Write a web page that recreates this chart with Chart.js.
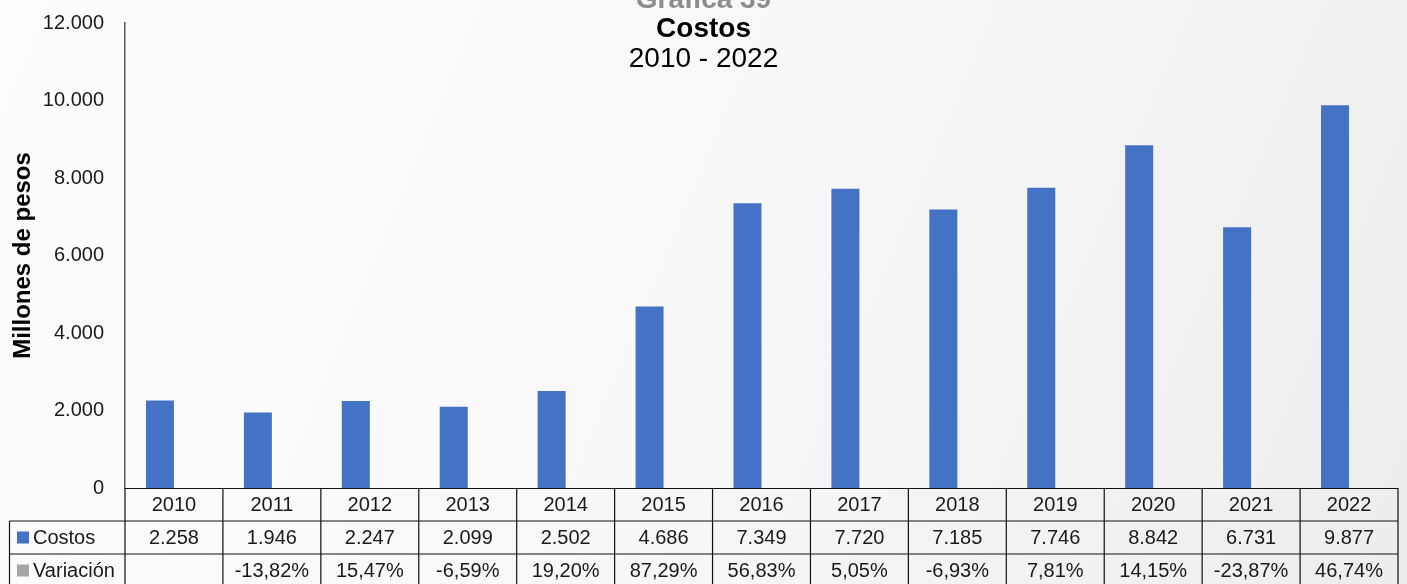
<!DOCTYPE html>
<html>
<head>
<meta charset="utf-8">
<script src="https://cdn.jsdelivr.net/npm/chart.js@4/dist/chart.umd.min.js"></script>
<style>
  body { margin: 0; background: #fff; }
  canvas { display: block; }
</style>
</head>
<body>
<canvas id="myChart" width="1407" height="584"></canvas>
<script>
// data
const years = ['2010', '2011', '2012', '2013', '2014', '2015', '2016', '2017', '2018', '2019', '2020', '2021', '2022'];
const costos = [2258, 1946, 2247, 2099, 2502, 4686, 7349, 7720, 7185, 7746, 8842, 6731, 9877];
const variacion = [null, -13.82, 15.47, -6.59, 19.20, 87.29, 56.83, 5.05, -6.93, 7.81, 14.15, -23.87, 46.74];
const yTicks = [0, 2000, 4000, 6000, 8000, 10000, 12000];

const FONT = '"Liberation Sans", Arial, Helvetica, sans-serif';
const BLUE = '#4472C4';
const GREY = '#A5A5A5';

function fmtMiles(n) {
    return String(n).replace(/\B(?=(\d{3})+(?!\d))/g, '.');
}

function fmtPct(v) {
    if (v === null) return '';
    return v.toFixed(2).replace('.', ',') + '%';
}

// marble-ish background
const bgPlugin = {
    id: 'bg',
    beforeDraw(chart) {
        const c = chart.ctx;
        const g = c.createLinearGradient(0, 0, chart.width, chart.height);
        g.addColorStop(0, '#fdfdfd');
        g.addColorStop(0.5, '#f8f8f8');
        g.addColorStop(1, '#ededed');
        c.save();
        c.fillStyle = g;
        c.fillRect(0, 0, chart.width, chart.height);
        c.restore();
    }
};

// titles and data table under the plot
const tablePlugin = {
    id: 'dataTable',
    afterDraw(chart) {
        const c = chart.ctx;
        const area = chart.chartArea;
        const x = chart.scales.x;
        const n = years.length;
        const colW = (area.right - area.left) / n;
        const top = area.bottom;
        const rowH = 33;
        const leftEdge = 9.5;

        c.save();

        // title
        c.textAlign = 'center';
        c.textBaseline = 'alphabetic';
        c.fillStyle = '#8c8c8c';
        c.font = 'bold 28px ' + FONT;
        c.fillText('Gráfica 39', chart.width / 2, 8);
        c.fillStyle = '#000';
        c.fillText('Costos', chart.width / 2, 37);
        c.font = '28px ' + FONT;
        c.fillText('2010 - 2022', chart.width / 2, 67);

        // borders
        c.strokeStyle = '#111';
        c.lineWidth = 1.2;
        c.beginPath();
        c.moveTo(area.left, top + 0.5);
        c.lineTo(area.right, top + 0.5);
        for (let r = 1; r <= 3; r++) {
            c.moveTo(leftEdge, top + rowH * r);
            c.lineTo(area.right, top + rowH * r);
        }
        c.moveTo(leftEdge, top + rowH);
        c.lineTo(leftEdge, top + rowH * 3);
        for (let i = 0; i <= n; i++) {
            const xx = area.left + i * colW;
            c.moveTo(xx, top);
            c.lineTo(xx, top + rowH * 3);
        }
        c.stroke();

        // cell texts
        c.fillStyle = '#1a1a1a';
        c.font = '20px ' + FONT;
        c.textBaseline = 'middle';
        c.textAlign = 'center';
        years.forEach((yr, i) => {
            const cx = x.getPixelForValue(i);
            c.fillText(yr, cx, top + rowH / 2 + 1);
            c.fillText(fmtMiles(costos[i]), cx, top + rowH * 1.5 + 1);
            c.fillText(fmtPct(variacion[i]), cx, top + rowH * 2.5 + 1);
        });

        // row headers with legend keys
        c.textAlign = 'left';
        c.fillStyle = BLUE;
        c.fillRect(17, top + rowH * 1.5 - 6, 12, 12);
        c.fillStyle = GREY;
        c.fillRect(17, top + rowH * 2.5 - 6, 12, 12);
        c.fillStyle = '#1a1a1a';
        c.fillText('Costos', 33, top + rowH * 1.5 + 1);
        c.fillText('Variación', 33, top + rowH * 2.5 + 1);

        c.restore();
    }
};

const ctx = document.getElementById('myChart').getContext('2d');

new Chart(ctx, {
    type: 'bar',
    data: {
        labels: years,
        datasets: [
            {
                label: 'Costos',
                data: costos,
                backgroundColor: BLUE,
                categoryPercentage: 0.572,
                barPercentage: 1
            },
            {
                // percentages as fractions, like the spreadsheet: invisible at this scale
                label: 'Variación',
                data: variacion.map(v => v === null ? null : v / 100),
                backgroundColor: GREY,
                categoryPercentage: 0.572,
                barPercentage: 1
            }
        ]
    },
    options: {
        responsive: false,
        animation: false,
        layout: {
            padding: { left: 0, right: 9, top: 23, bottom: 96 }
        },
        plugins: {
            legend: { display: false },
            tooltip: { enabled: false }
        },
        scales: {
            x: {
                display: false
            },
            y: {
                min: 0,
                max: 12000,
                afterFit(scale) {
                    scale.width = 125;
                    scale.paddingTop = 0;
                    scale.paddingBottom = 0;
                },
                afterBuildTicks(scale) {
                    scale.ticks = yTicks.map(v => ({ value: v }));
                },
                grid: {
                    display: false,
                    drawTicks: false
                },
                border: {
                    display: true,
                    color: '#595959',
                    width: 1.5
                },
                ticks: {
                    padding: 21,
                    color: '#1a1a1a',
                    font: { family: FONT, size: 20 },
                    callback: (value) => fmtMiles(value)
                },
                title: {
                    display: true,
                    text: 'Millones de pesos',
                    color: '#000',
                    font: { family: FONT, size: 24, weight: 'bold' },
                    padding: { top: 9, bottom: 0 }
                }
            }
        }
    },
    plugins: [bgPlugin, tablePlugin]
});
</script>
</body>
</html>
